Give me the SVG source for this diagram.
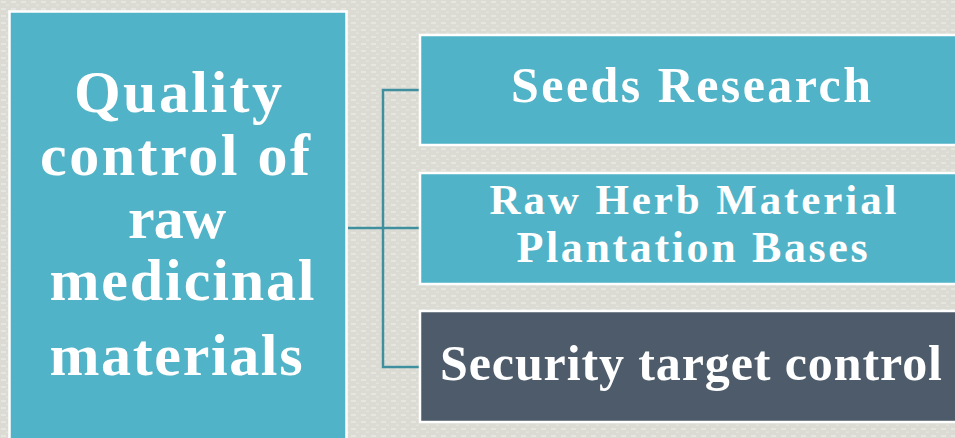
<svg xmlns="http://www.w3.org/2000/svg" width="955" height="438" viewBox="0 0 955 438">
<defs>
<pattern id="bg" x="0" y="0" width="10" height="7" patternUnits="userSpaceOnUse">
<rect width="10" height="7" fill="#DBDBD4"/>
<rect x="1" y="1" width="5" height="2" fill="#E6E6E1"/>
<rect x="6" y="4.5" width="3" height="1.5" fill="#E3E3DE"/>
</pattern>
<style>
.teal{fill:#50B3C7;stroke:#FFFFFF;stroke-width:2.5}
.dark{fill:#4D5B6A;stroke:#FFFFFF;stroke-width:2.5}
.t{font-family:"Liberation Serif","DejaVu Serif",serif;font-weight:bold;fill:#FFFFFF;text-anchor:middle}
.conn{fill:none;stroke:#3F8F9F;stroke-width:2.5}
</style>
</defs>
<rect width="955" height="438" fill="url(#bg)"/>
<g id="connectors">
<path class="conn" d="M348 228 H419"/>
<path class="conn" d="M419 90 H383 V367 H419"/>
</g>
<g id="node-main">
<rect class="teal" x="9.5" y="11.5" width="337" height="440"/>
<text class="t" font-size="60" x="178" y="112" textLength="208" lengthAdjust="spacing">Quality</text>
<text class="t" font-size="60" x="175" y="175" textLength="270" lengthAdjust="spacing">control of</text>
<text class="t" font-size="60" x="177" y="238" textLength="98" lengthAdjust="spacing">raw</text>
<text class="t" font-size="60" x="182" y="300" textLength="265" lengthAdjust="spacing">medicinal</text>
<text class="t" font-size="60" x="176" y="375" textLength="253" lengthAdjust="spacing">materials</text>
</g>
<g id="node-seeds">
<rect class="teal" x="420" y="35" width="560" height="110"/>
<text class="t" font-size="50" x="691" y="102" textLength="360" lengthAdjust="spacing">Seeds Research</text>
</g>
<g id="node-raw">
<rect class="teal" x="420" y="173" width="560" height="111"/>
<text class="t" font-size="43" x="693" y="214" textLength="407" lengthAdjust="spacing">Raw Herb Material</text>
<text class="t" font-size="44" x="692" y="262" textLength="351" lengthAdjust="spacing">Plantation Bases</text>
</g>
<g id="node-security">
<rect class="dark" x="420" y="311" width="560" height="111"/>
<text class="t" font-size="50" x="691" y="380" textLength="502" lengthAdjust="spacing">Security target control</text>
</g>
</svg>
